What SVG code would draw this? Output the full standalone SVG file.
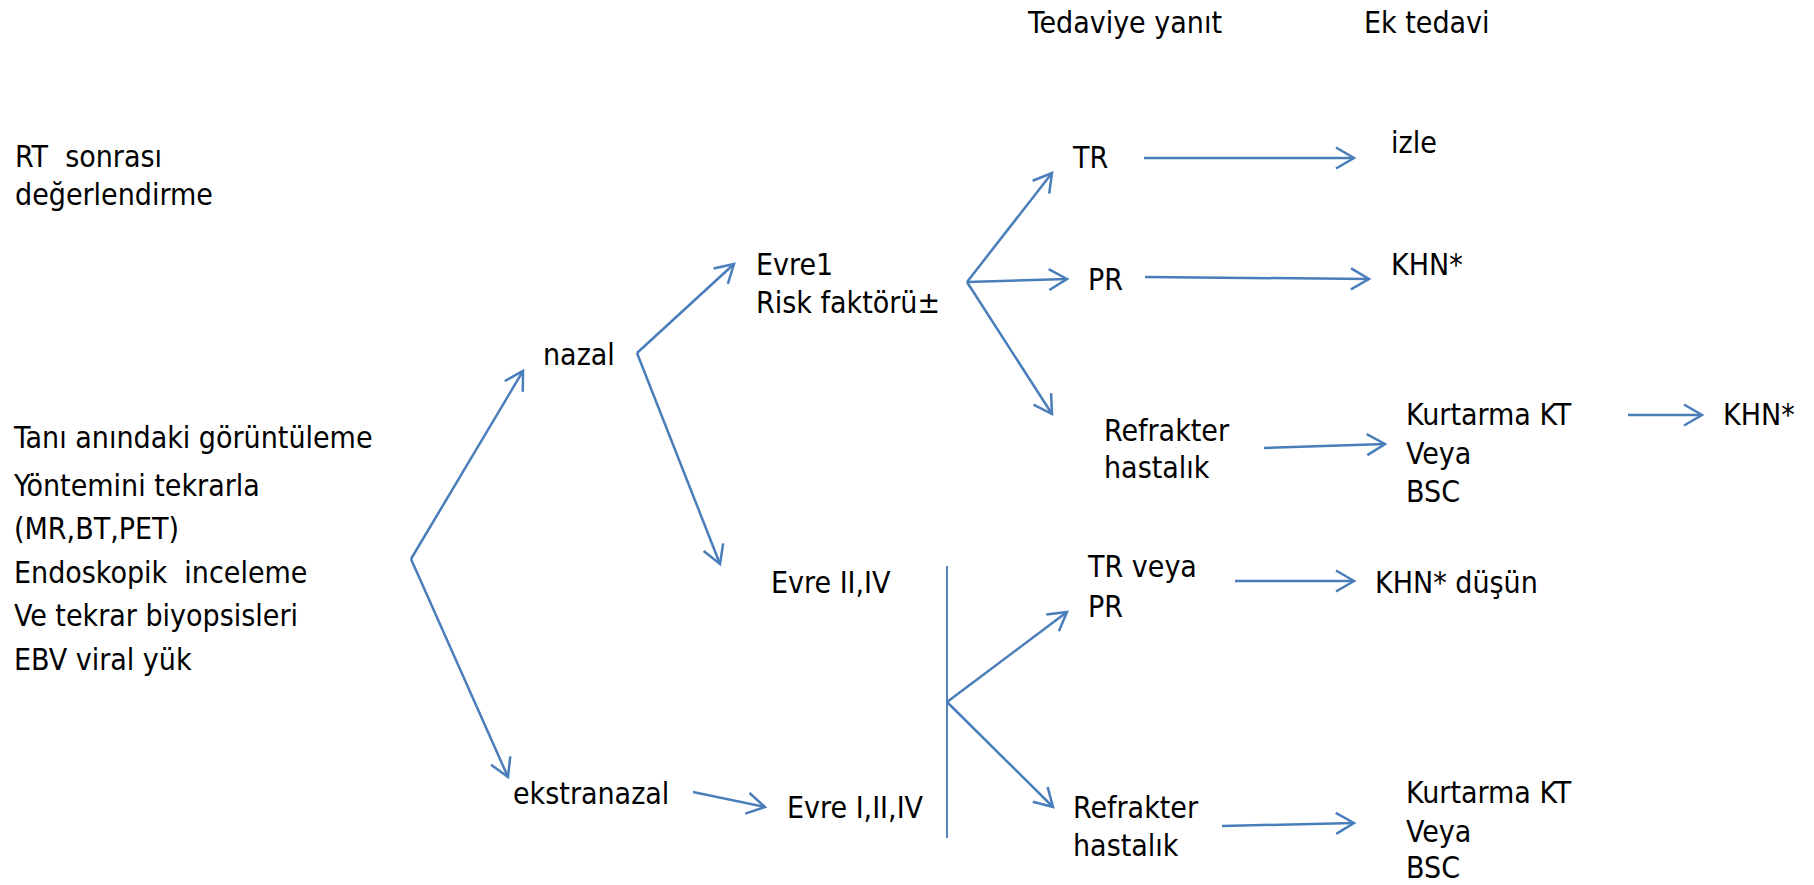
<svg xmlns="http://www.w3.org/2000/svg" width="1814" height="885" viewBox="0 0 1814 885">
<style>
text{font-family:"DejaVu Sans Condensed","DejaVu Sans","Liberation Sans",sans-serif;font-stretch:condensed;font-size:30px;fill:#000;white-space:pre}
.c line{stroke:#4a7ebb;stroke-width:2.5;fill:none}
.c line.a{marker-end:url(#ah)}
.c line.v{stroke:#5585c0;stroke-width:2}
</style>
<defs>
<marker id="ah" markerUnits="userSpaceOnUse" markerWidth="30" markerHeight="30" viewBox="-24 -15 30 30" refX="0" refY="0" orient="auto" overflow="visible">
<path d="M-18,-10.5 L0,0 L-18,10.5" fill="none" stroke="#4a7ebb" stroke-width="2.5" stroke-linejoin="miter"/>
</marker>
</defs>
<rect width="1814" height="885" fill="#fff"/>
<g id="headers">
<text x="1028" y="33">Tedaviye yanıt</text>
<text x="1364" y="33">Ek tedavi</text>
</g>
<g id="rt-sonrasi">
<text x="15" y="167">RT  sonrası</text>
<text x="15" y="205">değerlendirme</text>
</g>
<g id="tani">
<text x="14" y="448">Tanı anındaki görüntüleme</text>
<text x="14" y="496">Yöntemini tekrarla</text>
<text x="14" y="539">(MR,BT,PET)</text>
<text x="14" y="583">Endoskopik  inceleme</text>
<text x="14" y="626">Ve tekrar biyopsisleri</text>
<text x="14" y="670">EBV viral yük</text>
</g>
<g id="nazal"><text x="543" y="365">nazal</text></g>
<g id="ekstranazal"><text x="513" y="804">ekstranazal</text></g>
<g id="evre1">
<text x="756" y="275">Evre1</text>
<text x="756" y="313">Risk faktörü±</text>
</g>
<g id="evre-2-4"><text x="771" y="593">Evre II,IV</text></g>
<g id="evre-1-2-4"><text x="787" y="818">Evre I,II,IV</text></g>
<g id="tr"><text x="1073" y="168">TR</text></g>
<g id="pr"><text x="1088" y="290">PR</text></g>
<g id="refrakter1">
<text x="1104" y="441">Refrakter</text>
<text x="1104" y="478">hastalık</text>
</g>
<g id="izle"><text x="1391" y="153">izle</text></g>
<g id="khn1"><text x="1391" y="275">KHN*</text></g>
<g id="kurtarma1">
<text x="1406" y="425">Kurtarma KT</text>
<text x="1406" y="464">Veya</text>
<text x="1406" y="502">BSC</text>
</g>
<g id="khn2"><text x="1723" y="425">KHN*</text></g>
<g id="tr-veya-pr">
<text x="1088" y="577">TR veya</text>
<text x="1088" y="617">PR</text>
</g>
<g id="khn-dusun"><text x="1375" y="593">KHN* düşün</text></g>
<g id="refrakter2">
<text x="1073" y="818">Refrakter</text>
<text x="1073" y="856">hastalık</text>
</g>
<g id="kurtarma2">
<text x="1406" y="803">Kurtarma KT</text>
<text x="1406" y="842">Veya</text>
<text x="1406" y="878">BSC</text>
</g>
<g id="connectors" class="c">
<line class="a" x1="411" y1="559" x2="523" y2="371"/>
<line class="a" x1="411" y1="559" x2="508" y2="777"/>
<line class="a" x1="637" y1="353" x2="734" y2="264"/>
<line class="a" x1="637" y1="353" x2="720" y2="564"/>
<line class="a" x1="693" y1="792" x2="765" y2="807"/>
<line class="a" x1="967" y1="282" x2="1052" y2="173"/>
<line class="a" x1="967" y1="282" x2="1067" y2="279"/>
<line class="a" x1="967" y1="282" x2="1052" y2="414"/>
<line class="a" x1="1144" y1="158" x2="1354" y2="158"/>
<line class="a" x1="1145" y1="277" x2="1369" y2="279"/>
<line class="a" x1="1264" y1="448" x2="1385" y2="444"/>
<line class="a" x1="1628" y1="415" x2="1702" y2="415"/>
<line class="v" x1="947" y1="566" x2="947" y2="838"/>
<line class="a" x1="947" y1="702" x2="1067" y2="612"/>
<line class="a" x1="947" y1="702" x2="1053" y2="807"/>
<line class="a" x1="1235" y1="581" x2="1354" y2="581"/>
<line class="a" x1="1222" y1="826" x2="1354" y2="823"/>
</g>
</svg>
